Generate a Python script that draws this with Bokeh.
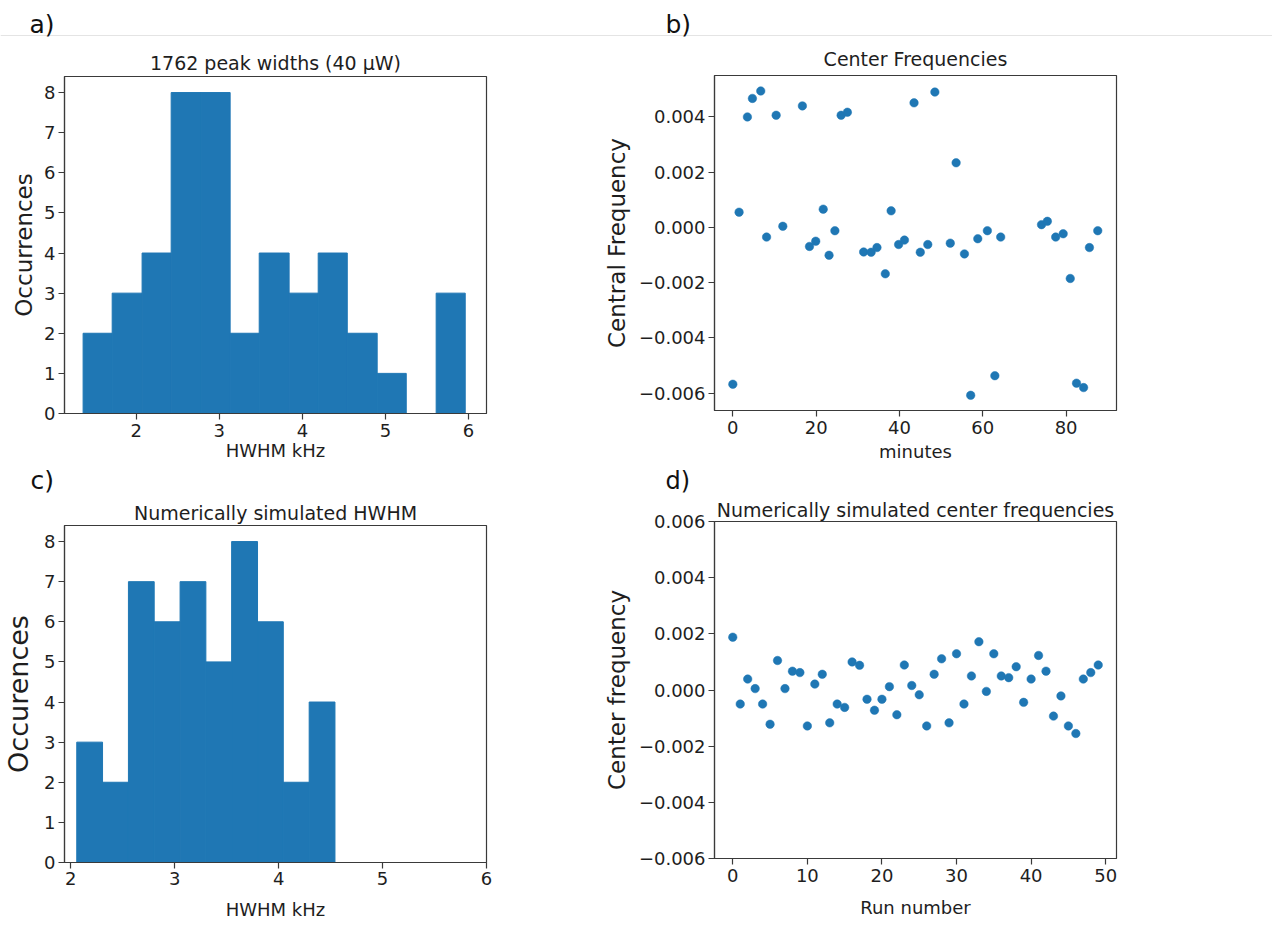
from bokeh.plotting import figure
from bokeh.models import Range1d, FixedTicker, Span, Label, Title, CustomJSTickFormatter
from bokeh.layouts import column, row
from bokeh.embed import file_html
from bokeh.resources import INLINE

FONT = "DejaVu Sans"
BLUE = "#1f77b4"
TXT = "#1e1e1e"
AXC = "#3a3a3a"

# ---------------- data ----------------
# a) measured peak widths histogram
a_edges = [1.36, 1.71, 2.07, 2.42, 2.78, 3.13, 3.48, 3.84, 4.19, 4.54, 4.90, 5.25, 5.61, 5.96]
a_counts = [2, 3, 4, 8, 8, 2, 4, 3, 4, 2, 1, 0, 3]

# b) measured center frequencies
b_minutes = [0.0, 1.5, 3.5, 4.7, 6.7, 8.1, 10.4, 12.0, 16.7, 18.4,
             19.9, 21.7, 23.1, 24.5, 26.0, 27.5, 31.4, 33.2, 34.6, 36.6,
             38.0, 39.8, 41.2, 43.5, 45.0, 46.8, 48.5, 52.2, 53.6, 55.6,
             57.1, 58.8, 61.1, 62.9, 64.3, 74.1, 75.5, 77.5, 79.3, 81.0,
             82.5, 84.2, 85.6, 87.6]
b_freq = [-0.00568, 0.00055, 0.00400, 0.00467, 0.00494, -0.00035, 0.00406, 0.00004, 0.00440, -0.00069,
          -0.00050, 0.00066, -0.00101, -0.00012, 0.00406, 0.00417, -0.00089, -0.00090, -0.00073, -0.00168,
          0.00060, -0.00062, -0.00046, 0.00451, -0.00090, -0.00062, 0.00490, -0.00057, 0.00234, -0.00096,
          -0.00608, -0.00041, -0.00012, -0.00537, -0.00035, 0.00010, 0.00022, -0.00035, -0.00023, -0.00185,
          -0.00564, -0.00580, -0.00073, -0.00012]

# c) simulated HWHM histogram
c_edges = [2.058, 2.306, 2.555, 2.803, 3.052, 3.300, 3.548, 3.797, 4.045, 4.294, 4.542]
c_counts = [3, 2, 7, 6, 7, 5, 8, 6, 2, 4]

# d) simulated center frequencies
d_runs = list(range(50))
d_freq = [0.00188, -0.00050, 0.00039, 0.00005, -0.00050, -0.00122, 0.00105, 0.00005, 0.00067, 0.00062,
          -0.00128, 0.00021, 0.00056, -0.00117, -0.00050, -0.00062, 0.00100, 0.00088, -0.00033, -0.00072,
          -0.00033, 0.00012, -0.00088, 0.00089, 0.00016, -0.00017, -0.00128, 0.00056, 0.00111, -0.00117,
          0.00129, -0.00050, 0.00050, 0.00172, -0.00005, 0.00129, 0.00050, 0.00044, 0.00083, -0.00044,
          0.00039, 0.00123, 0.00067, -0.00093, -0.00021, -0.00128, -0.00155, 0.00039, 0.00062, 0.00089]

# tick labels
hist_a_xticks = [2, 3, 4, 5, 6]
hist_c_xticks = [2, 3, 4, 5, 6]
hist_yticks = [0, 1, 2, 3, 4, 5, 6, 7, 8]
b_xticks = [0, 20, 40, 60, 80]
b_yticks = [-0.006, -0.004, -0.002, 0.0, 0.002, 0.004]
d_xticks = [0, 10, 20, 30, 40, 50]
d_yticks = [-0.006, -0.004, -0.002, 0.0, 0.002, 0.004, 0.006]

panel_letters = ["a)", "b)", "c)", "d)"]
titles = ["1762 peak widths (40 \u03bcW)", "Center Frequencies",
          "Numerically simulated HWHM", "Numerically simulated center frequencies"]

# ---------------- helpers ----------------
freq_fmt = CustomJSTickFormatter(code="""
if (Math.abs(tick) < 1e-12) { return '0.000'; }
return tick.toFixed(3).replace('-', '\\u2212');
""")


def make_fig(width, height, xr, yr, left, right, top, bottom):
    p = figure(width=width, height=height,
               x_range=Range1d(*xr), y_range=Range1d(*yr),
               min_border_left=left, min_border_right=right,
               min_border_top=top, min_border_bottom=bottom,
               toolbar_location=None, output_backend="svg")
    p.background_fill_color = "white"
    p.border_fill_color = "white"
    p.outline_line_color = AXC
    p.outline_line_width = 1.2
    p.xgrid.visible = False
    p.ygrid.visible = False
    return p


def style_title(t, standoff, size="19px", align="center", offset=0, color=TXT):
    t.align = align
    t.offset = offset
    t.text_font = FONT
    t.text_font_size = size
    t.text_font_style = "normal"
    t.text_color = color
    t.standoff = standoff


def style_axes(p, xticks, yticks, xlabel, ylabel, ylabel_size, xs1, xs2, ys2, yfmt=None):
    for ax in (p.xaxis[0], p.yaxis[0]):
        ax.axis_line_color = AXC
        ax.axis_line_width = 1.2
        ax.major_tick_line_color = AXC
        ax.major_tick_line_width = 1.2
        ax.major_tick_out = 6
        ax.major_tick_in = 0
        ax.minor_tick_out = 0
        ax.minor_tick_in = 0
        ax.major_label_text_font = FONT
        ax.major_label_text_font_size = "18px"
        ax.major_label_text_color = TXT
        ax.axis_label_text_font = FONT
        ax.axis_label_text_font_style = "normal"
        ax.axis_label_text_color = TXT
    p.xaxis[0].ticker = FixedTicker(ticks=xticks)
    p.yaxis[0].ticker = FixedTicker(ticks=yticks)
    p.xaxis[0].axis_label = xlabel
    p.xaxis[0].axis_label_text_font_size = "18px"
    p.xaxis[0].major_label_standoff = xs1
    p.xaxis[0].axis_label_standoff = xs2
    p.yaxis[0].axis_label = ylabel
    p.yaxis[0].axis_label_text_font_size = ylabel_size
    p.yaxis[0].major_label_standoff = 3
    p.yaxis[0].axis_label_standoff = ys2
    if yfmt is not None:
        p.yaxis[0].formatter = yfmt


def letter_below(p, text, offset, size):
    t = Title(text=text)
    style_title(t, 0, size=size, align="left", offset=offset, color="#111111")
    p.add_layout(t, "below")


# ---------------- top strip with a) b) and the rule ----------------
STRIP_W, STRIP_H = 1272, 40
strip = figure(width=STRIP_W, height=STRIP_H, x_range=Range1d(0, STRIP_W),
               y_range=Range1d(0, STRIP_H), x_axis_type=None, y_axis_type=None,
               min_border=0, toolbar_location=None, output_backend="svg")
strip.outline_line_color = None
strip.xgrid.visible = False
strip.ygrid.visible = False
strip.add_layout(Span(location=5, dimension="width", line_color="#e4e4e4", line_width=1))
for txt, xpos in ((panel_letters[0], 29), (panel_letters[1], 665)):
    strip.add_layout(Label(x=xpos, y=1.2, text=txt, text_font=FONT, text_font_size="25px",
                           text_color="#111111", text_baseline="bottom", text_align="left"))

# ---------------- panel a (with the "c)" letter underneath) ----------------
fa = make_fig(560, 456, (1.136, 6.216), (0.0, 8.4), 63, 74, 36, 83)
fa.quad(left=a_edges[:-1], right=a_edges[1:], bottom=0, top=a_counts,
        fill_color=BLUE, line_color=BLUE, line_width=1)
fa.title.text = titles[0]
style_title(fa.title, 6)
style_axes(fa, hist_a_xticks, hist_yticks, "HWHM kHz", "Occurrences", "23px", 4, 0, 4)
letter_below(fa, panel_letters[2], -34, "25px")

# ---------------- panel c ----------------
fc = make_fig(560, 431, (1.94, 6.0), (0.0, 8.4), 63, 74, 29, 65)
fc.quad(left=c_edges[:-1], right=c_edges[1:], bottom=0, top=c_counts,
        fill_color=BLUE, line_color=BLUE, line_width=1)
fc.title.text = titles[2]
style_title(fc.title, 3)
style_axes(fc, hist_c_xticks, hist_yticks, "HWHM kHz", "Occurences", "27px", 3, 11, 7)

# ---------------- panel b (with the "d)" letter underneath) ----------------
fb = make_fig(712, 456, (-4.4, 92.1), (-0.00663, 0.0055), 154, 156, 34, 86)
fb.scatter(b_minutes, b_freq, size=8.5, fill_color=BLUE, line_color=BLUE, line_width=0.5)
fb.title.text = titles[1]
style_title(fb.title, 11)
style_axes(fb, b_xticks, b_yticks, "minutes", "Central Frequency", "23px", 4, 4, 6, freq_fmt)
letter_below(fb, panel_letters[3], -49, "24px")

# ---------------- panel d ----------------
fd = make_fig(712, 431, (-2.45, 51.45), (-0.006, 0.006), 154, 156, 25, 69)
fd.scatter(d_runs, d_freq, size=8.5, fill_color=BLUE, line_color=BLUE, line_width=0.5)
fd.title.text = titles[3]
style_title(fd.title, 1)
style_axes(fd, d_xticks, d_yticks, "Run number", "Center frequency", "23px", 4, 12, 6, freq_fmt)

layout = column(strip, row(column(fa, fc), column(fb, fd)))

with open("out.html", "w", encoding="utf-8") as f:
    f.write(file_html(layout, INLINE))
